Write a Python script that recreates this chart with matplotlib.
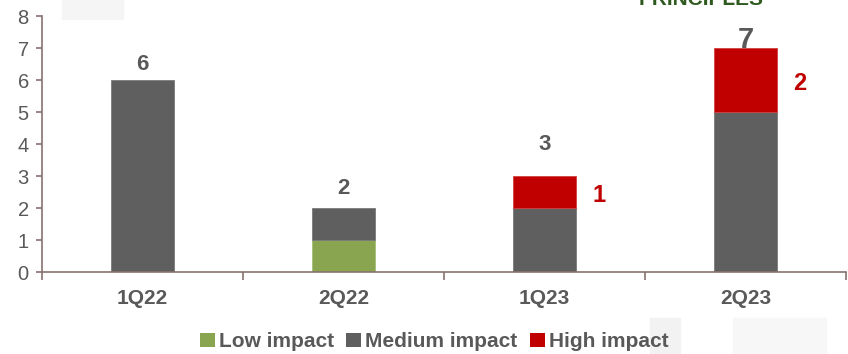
import matplotlib
matplotlib.use("Agg")
import matplotlib.pyplot as plt
from matplotlib.patches import Rectangle, Patch
import numpy as np

plt.rcParams['font.family'] = ['Liberation Sans', 'DejaVu Sans']

quarters = ["1Q22", "2Q22", "1Q23", "2Q23"]
low_impact = [0, 1, 0, 0]
medium_impact = [6, 1, 2, 5]
high_impact = [0, 0, 1, 2]
# vertical gap between bar top and total label (data units)
total_label_gap = [0.47, 0.6, 1.0, 0.25]

c_low = "#8aa54f"
c_med = "#5f5f5f"
c_high = "#c00000"
c_text = "#595959"
c_axis = "#86726f"

fig = plt.figure(figsize=(8.48, 3.54), dpi=100)
ax = fig.add_axes([42 / 848, 1 - 272 / 354, 804 / 848, 256 / 354])

x = np.arange(len(quarters))
w = 0.31
low = np.array(low_impact)
med = np.array(medium_impact)
high = np.array(high_impact)


def stack(values, bottom, face, edge):
    keep = values > 0
    ax.bar(x[keep], values[keep], w, bottom=bottom[keep], color=face,
           edgecolor=edge, linewidth=0.6)


stack(low, np.zeros_like(low), c_low, "#a7bd78")
stack(med, low, c_med, "#7a7a7a")
stack(high, low + med, c_high, "#d24040")

totals = low + med + high
for i, t in enumerate(totals):
    size = 21 if i == 3 else 16
    ax.text(x[i], t + total_label_gap[i], str(t), ha="center", va="center",
            fontsize=size, fontweight="bold", color=c_text, zorder=5)
    if high[i] > 0:
        ax.text(x[i] + 0.27, low[i] + med[i] + high[i] * 0.5 - 0.12, str(high[i]),
                ha="center", va="center", fontsize=17, fontweight="bold", color=c_high)

ax.set_xlim(-0.5, len(quarters) - 0.5)
ax.set_ylim(0, 8)
ax.set_yticks(range(0, 9))
ax.set_xticks(x)
ax.set_xticklabels(quarters)
ax.set_xticks(np.arange(-0.5, len(quarters), 1.0), minor=True)

for s in ["top", "right"]:
    ax.spines[s].set_visible(False)
for s in ["left", "bottom"]:
    ax.spines[s].set_color(c_axis)
    ax.spines[s].set_linewidth(1.2)

ax.tick_params(axis="y", colors=c_axis, labelcolor=c_text, labelsize=14.5,
               length=4.5, width=1.2, pad=5)
ax.tick_params(axis="x", which="major", length=0, pad=12, labelcolor=c_text,
               labelsize=15)
ax.tick_params(axis="x", which="minor", length=6, width=1.2, colors=c_axis,
               direction="out")
for lbl in ax.get_xticklabels():
    lbl.set_fontweight("bold")

handles = [Patch(facecolor=c_low, label="Low impact"),
           Patch(facecolor=c_med, label="Medium impact"),
           Patch(facecolor=c_high, label="High impact")]
fig.legend(handles=handles, loc="center", bbox_to_anchor=(0.512, 0.034), ncol=3,
           frameon=False, handlelength=0.7, handleheight=0.7, handletextpad=0.2,
           columnspacing=0.6, prop={"weight": "bold", "size": 15},
           labelcolor=c_text)

# light background blocks
fig.patches.append(Rectangle((62 / 848, 1 - 19 / 354), 61 / 848, 19 / 354,
                             transform=fig.transFigure, color="#f5f5f5", zorder=0))
fig.patches.append(Rectangle((650 / 848, 0), 30 / 848, 36 / 354,
                             transform=fig.transFigure, color="#f2f2f2", zorder=0))
fig.patches.append(Rectangle((733 / 848, 0), 93 / 848, 36 / 354,
                             transform=fig.transFigure, color="#f7f7f7", zorder=0))

# logo text peeking in at the top
fig.text(701 / 848, 1 + 1 / 354, "PRINCIPLES", ha="center", va="center",
         fontsize=15, fontweight="bold", color="#2f5a1f")

fig.savefig("out.png", dpi=100)
